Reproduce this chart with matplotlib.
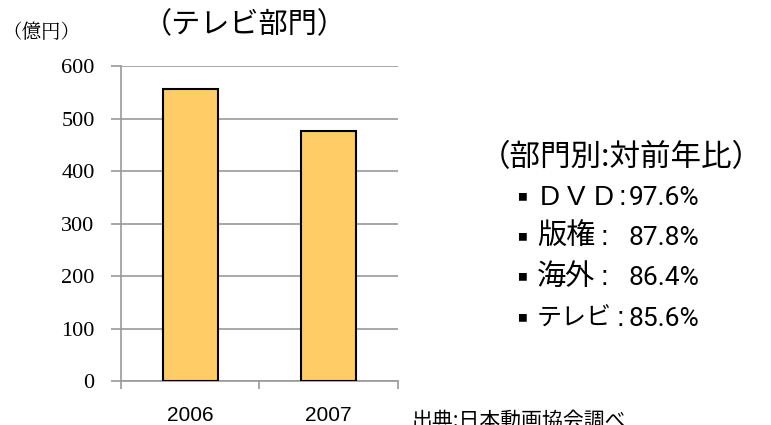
import matplotlib.pyplot as plt

plt.rcParams['font.family'] = ['Noto Sans CJK JP', 'DejaVu Sans']

years = ['2006', '2007']
sales = [556, 476]
note_labels = ['DVD', '版権', '海外', 'テレビ']
note_values = ['97.6%', '87.8%', '86.4%', '85.6%']

fig = plt.figure(figsize=(7.71, 4.25), dpi=100)
ax = fig.add_axes([0.157, 0.1035, 0.359, 0.741])

x = range(len(years))
ax.bar(x, sales, width=0.4, color='#FFCC66', edgecolor='black', linewidth=1.5, zorder=3)

ax.set_xlim(-0.5, 1.5)
ax.set_ylim(0, 600)
ax.set_yticks(range(0, 601, 100))
ax.set_yticklabels([str(v) for v in range(0, 601, 100)],
                   family=['Liberation Serif', 'DejaVu Serif'], fontsize=16)
ax.yaxis.grid(True, color='#999999', linewidth=1.2, zorder=0)
ax.tick_params(axis='y', length=7, color='#999999', width=1.2, pad=12)

ax.set_xticks([-0.5, 0.5, 1.5])
ax.set_xticklabels([])
ax.tick_params(axis='x', length=6, color='#999999', width=1.2)
for i, yr in zip(x, years):
    ax.text(i, -0.111, yr, transform=ax.get_xaxis_transform(), ha='center', va='center',
            fontsize=15, family=['Liberation Sans', 'DejaVu Sans'])

for side in ['top', 'right']:
    ax.spines[side].set_visible(False)
for side in ['left', 'bottom']:
    ax.spines[side].set_color('#999999')
    ax.spines[side].set_linewidth(1.2)

W, H = 771, 425

def px(xp, yp):
    return xp / W, 1 - yp / H

fig.text(*px(245, 25), '（テレビ部門）', ha='center', va='center', fontsize=21)
fig.text(*px(2, 33), '（億円）', ha='left', va='center', fontsize=14,
         family=['Noto Serif CJK JP', 'Noto Sans CJK JP'])

fig.text(*px(480, 158), '（部門別:対前年比）', ha='left', va='center', fontsize=22)

ys = [197, 237, 277, 318]
colon_x = [622, 604, 604, 620]
label_size = [20, 21, 21, 18]
for yy, lab, val, cx, ls in zip(ys, note_labels, note_values, colon_x, label_size):
    fig.text(*px(522, yy), '■', ha='center', va='center', fontsize=7)
    if lab == 'DVD':
        for k, ch in enumerate(lab):
            fig.text(*px(540 + 27 * k, yy + 1), ch, ha='left', va='center', fontsize=ls,
                     family=['Liberation Sans', 'DejaVu Sans'])
    else:
        fig.text(*px(537, yy), lab, ha='left', va='center', fontsize=ls)
    fig.text(*px(cx, yy + 1), ':', ha='center', va='center', fontsize=20,
             family=['Liberation Sans', 'DejaVu Sans'])
    fig.text(*px(629, yy + 1), val, ha='left', va='center', fontsize=19,
             family=['Liberation Sans Narrow', 'Roboto', 'DejaVu Sans'])

fig.text(*px(412, 410), '出典:日本動画協会調べ', ha='left', va='top', fontsize=15)

fig.savefig('out.png', dpi=100)
